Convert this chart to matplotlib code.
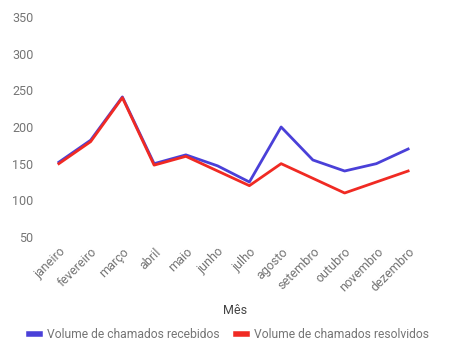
import matplotlib
matplotlib.use("Agg")
import matplotlib.pyplot as plt

plt.rcParams['font.family'] = ['Roboto', 'DejaVu Sans']

meses = ['janeiro', 'fevereiro', 'março', 'abril', 'maio', 'junho',
         'julho', 'agosto', 'setembro', 'outubro', 'novembro', 'dezembro']
recebidos = [152, 182, 241, 150, 162, 147, 125, 200, 155, 140, 150, 170]
resolvidos = [150, 180, 240, 148, 160, 140, 120, 150, 130, 110, 125, 140]
y_ticks = [50, 100, 150, 200, 250, 300, 350]

fig = plt.figure(figsize=(4.68, 3.54), dpi=100)
ax = fig.add_axes([43 / 468, 1 - 237 / 354, 381 / 468, 220 / 354])

x = list(range(len(meses)))
ax.plot(x, recebidos, color='#4a40d8', lw=2, label='Volume de chamados recebidos')
ax.plot(x, resolvidos, color='#f02a23', lw=2, label='Volume de chamados resolvidos')

ax.set_xlim(-0.5, len(meses) - 0.5)
ax.set_ylim(50, 350)
ax.set_yticks(y_ticks)
ax.set_xticks(x)
ax.set_xticklabels(meses, rotation=45, ha='right', rotation_mode='anchor')
for s in ax.spines.values():
    s.set_visible(False)
ax.tick_params(length=0, labelsize=9, labelcolor='#757575')
ax.tick_params(axis='x', pad=6)
ax.tick_params(axis='y', pad=7)

fig.text(235 / 468, 1 - 310 / 354, 'Mês', ha='center', va='center',
         fontsize=9, color='#444444')

handles, labels = ax.get_legend_handles_labels()
leg = fig.legend(handles, labels, loc='center', bbox_to_anchor=(229 / 468, 1 - 335 / 354),
                 ncol=2, frameon=False, fontsize=8.7, handlelength=0.9,
                 columnspacing=1.3, handletextpad=0.6)
for line in leg.get_lines():
    line.set_linewidth(4)
for t in leg.get_texts():
    t.set_color('#757575')

fig.savefig('out.png', dpi=100)
